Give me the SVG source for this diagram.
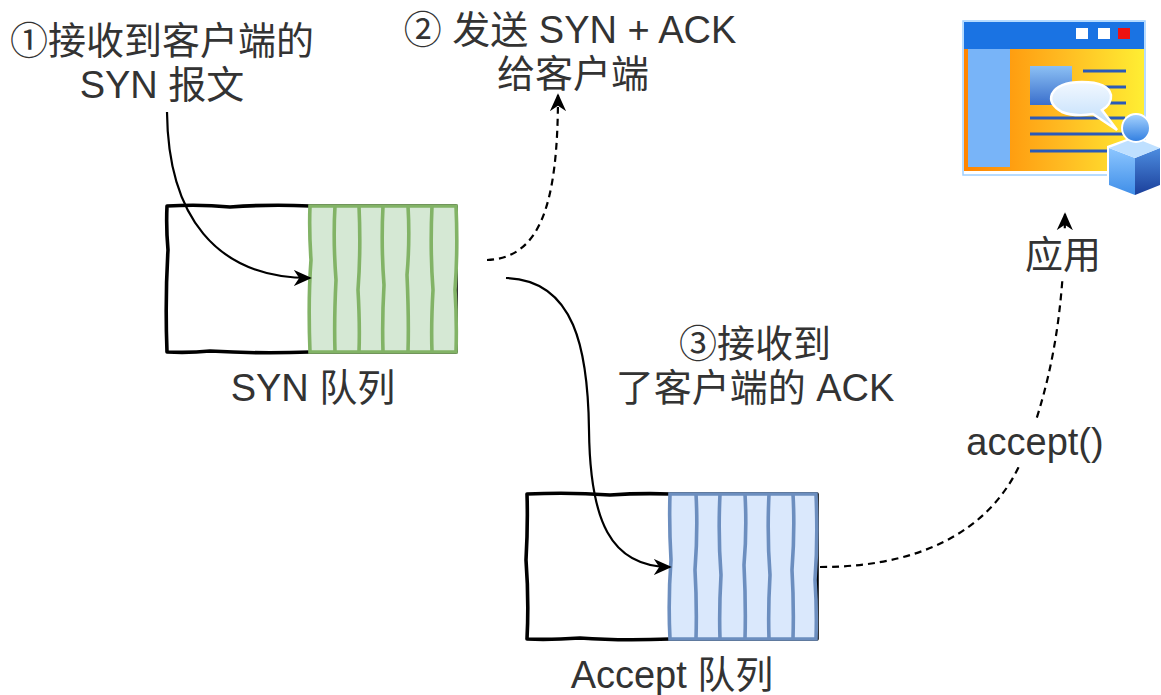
<svg xmlns="http://www.w3.org/2000/svg" width="1161" height="695" viewBox="0 0 1161 695">
  <style>
    .lbl { font-family: "Liberation Sans", "Noto Sans CJK SC", sans-serif; font-size: 38px; fill: #333333; text-anchor: middle; }
    .frame { fill: #ffffff; stroke: #000000; stroke-width: 3.6; stroke-linejoin: round; }
    .synq { fill: #d5e8d4; stroke: #82b366; stroke-width: 3.6; }
    .accq { fill: #dae8fc; stroke: #6c8ebf; stroke-width: 3.6; }
    .slot-g { fill: none; stroke: #82b366; stroke-width: 3.6; }
    .slot-b { fill: none; stroke: #6c8ebf; stroke-width: 3.6; }
    .edge { fill: none; stroke: #000000; stroke-width: 2.2; }
    .dash { stroke-dasharray: 7 5; }
  </style>
  <defs>
    <marker id="arrow" viewBox="0 0 10 10" refX="9" refY="5" markerWidth="18" markerHeight="18" markerUnits="userSpaceOnUse" orient="auto">
      <path d="M0,0.5 L10,5 L0,9.5 L3,5 z" fill="#000000"/>
    </marker>
    <linearGradient id="pageGrad" x1="0" y1="0" x2="1" y2="0">
      <stop offset="0" stop-color="#ff8400"/>
      <stop offset="0.55" stop-color="#ffbb22"/>
      <stop offset="1" stop-color="#ffee33"/>
    </linearGradient>
    <linearGradient id="picGrad" x1="0" y1="0" x2="0" y2="1">
      <stop offset="0" stop-color="#8cc0f4"/>
      <stop offset="1" stop-color="#3a6fcc"/>
    </linearGradient>
    <linearGradient id="bubbleGrad" x1="0" y1="0" x2="0" y2="1">
      <stop offset="0" stop-color="#f2f8ff"/>
      <stop offset="1" stop-color="#bcdcfb"/>
    </linearGradient>
    <linearGradient id="headGrad" x1="0" y1="0" x2="0" y2="1">
      <stop offset="0" stop-color="#a8d4ff"/>
      <stop offset="1" stop-color="#2f7de0"/>
    </linearGradient>
    <linearGradient id="cubeFront" x1="0" y1="0" x2="0" y2="1">
      <stop offset="0" stop-color="#8cc6ff"/>
      <stop offset="1" stop-color="#3f8ee8"/>
    </linearGradient>
    <linearGradient id="cubeSide" x1="0" y1="0" x2="0" y2="1">
      <stop offset="0" stop-color="#4d8de0"/>
      <stop offset="1" stop-color="#1b3f9a"/>
    </linearGradient>
  </defs>

  <!-- SYN queue -->
  <g id="syn-queue">
    <path class="frame" d="M167,206 Q200,204 230,207 Q270,204 310,206 L456,206 L456,352 L310,352 Q260,354 210,351 Q190,353 167,352 Q165,300 168,250 Q166,228 167,206 z"/>
    <path class="synq" d="M310,206 L456,206 Q458,250 455,290 Q457,320 456,352 L310,352 Q308,300 311,260 Q309,230 310,206 z"/>
    <path class="slot-g" d="M335,206 Q333,240 336,280 Q334,320 335,352"/>
    <path class="slot-g" d="M359,206 Q361,250 358,290 Q360,325 359,352"/>
    <path class="slot-g" d="M383,206 Q381,245 384,285 Q382,320 383,352"/>
    <path class="slot-g" d="M408,206 Q410,240 407,275 Q409,320 408,352"/>
    <path class="slot-g" d="M432,206 Q430,250 433,290 Q431,325 432,352"/>
    <text class="lbl" x="313" y="401">SYN 队列</text>
  </g>

  <!-- Accept queue -->
  <g id="accept-queue">
    <path class="frame" d="M527,494 Q570,492 610,495 Q640,493 670,494 L817,494 L817,639 L670,639 Q620,641 580,638 Q550,640 527,639 Q529,600 526,560 Q528,525 527,494 z"/>
    <path class="accq" d="M670,494 L816,494 Q818,540 815,580 Q817,610 816,639 L670,639 Q668,600 671,560 Q669,525 670,494 z"/>
    <path class="slot-b" d="M696,494 Q698,530 695,570 Q697,605 696,639"/>
    <path class="slot-b" d="M720,494 Q718,535 721,575 Q719,610 720,639"/>
    <path class="slot-b" d="M745,494 Q747,530 744,565 Q746,605 745,639"/>
    <path class="slot-b" d="M769,494 Q767,535 770,575 Q768,610 769,639"/>
    <path class="slot-b" d="M793,494 Q795,530 792,570 Q794,605 793,639"/>
    <text class="lbl" x="672" y="688">Accept 队列</text>
  </g>

  <!-- Application window icon -->
  <g id="application">
    <rect x="963" y="21" width="182" height="154" fill="#ffffff" stroke="#9fd0ff" stroke-width="1.5"/>
    <rect x="964" y="22" width="180" height="27" fill="#1a73e3"/>
    <rect x="1076" y="28" width="12" height="11" fill="#ffffff"/>
    <rect x="1098" y="28" width="12" height="11" fill="#ffffff"/>
    <rect x="1118" y="28" width="12" height="11" fill="#ee1111"/>
    <rect x="964" y="49" width="180" height="122" fill="url(#pageGrad)"/>
    <rect x="968" y="49" width="42" height="118" fill="#78b4f8"/>
    <rect x="1030" y="66" width="42" height="39" fill="url(#picGrad)"/>
    <g stroke="#2a5ab8" stroke-width="3">
      <line x1="1083" y1="71" x2="1126" y2="71"/>
      <line x1="1083" y1="87" x2="1126" y2="87"/>
      <line x1="1083" y1="103" x2="1126" y2="103"/>
      <line x1="1030" y1="118" x2="1125" y2="118"/>
      <line x1="1030" y1="134" x2="1125" y2="134"/>
      <line x1="1030" y1="151" x2="1125" y2="151"/>
    </g>
    <path d="M1062,112 Q1048,104 1052,94 Q1058,82 1082,82 Q1108,82 1111,95 Q1112,104 1102,110 L1117,130 L1093,114 Q1075,117 1062,112 z" fill="url(#bubbleGrad)" stroke="#ffffff" stroke-width="2.5"/>
    <path d="M1107,146 L1135,136 L1161,146 L1161,186 L1133,197 L1107,186 z" fill="#ffffff"/>
    <path d="M1109,148 L1135,158 L1135,195 L1109,185 z" fill="url(#cubeFront)"/>
    <path d="M1135,158 L1160,148 L1160,185 L1135,195 z" fill="url(#cubeSide)"/>
    <path d="M1109,148 L1135,138 L1160,148 L1135,158 z" fill="#bfe0ff"/>
    <circle cx="1136" cy="128" r="14" fill="url(#headGrad)" stroke="#ffffff" stroke-width="2"/>
  </g>

  <!-- Connectors -->
  <g id="connectors">
    <path class="edge" d="M167,112 C168,215 215,278 310,278" marker-end="url(#arrow)"/>
    <path class="edge dash" d="M487,260 C540,258 558,205 558,95" marker-end="url(#arrow)"/>
    <path class="edge" d="M506,278 C575,280 588,350 589,430 C590,520 610,567 670,567" marker-end="url(#arrow)"/>
    <path class="edge dash" d="M820,567 C935,567 1000,520 1025,452 C1050,385 1064,320 1065,214" marker-end="url(#arrow)"/>
  </g>

  <!-- Edge and step labels -->
  <g id="label-step1">
    <text class="lbl" x="162" y="54">①接收到客户端的</text>
    <text class="lbl" x="162" y="98">SYN 报文</text>
  </g>
  <g id="label-step2">
    <text class="lbl" x="570" y="43">② 发送 SYN + ACK</text>
    <text class="lbl" x="573" y="87">给客户端</text>
  </g>
  <g id="label-step3">
    <text class="lbl" x="755" y="357">③接收到</text>
    <text class="lbl" x="755" y="401">了客户端的 ACK</text>
  </g>
  <g id="label-accept">
    <rect x="962" y="421" width="146" height="46" fill="#ffffff"/>
    <text class="lbl" x="1035" y="455">accept()</text>
  </g>
  <g id="label-app">
    <rect x="1022" y="231" width="84" height="46" fill="#ffffff"/>
    <text class="lbl" x="1063" y="268">应用</text>
  </g>
</svg>
